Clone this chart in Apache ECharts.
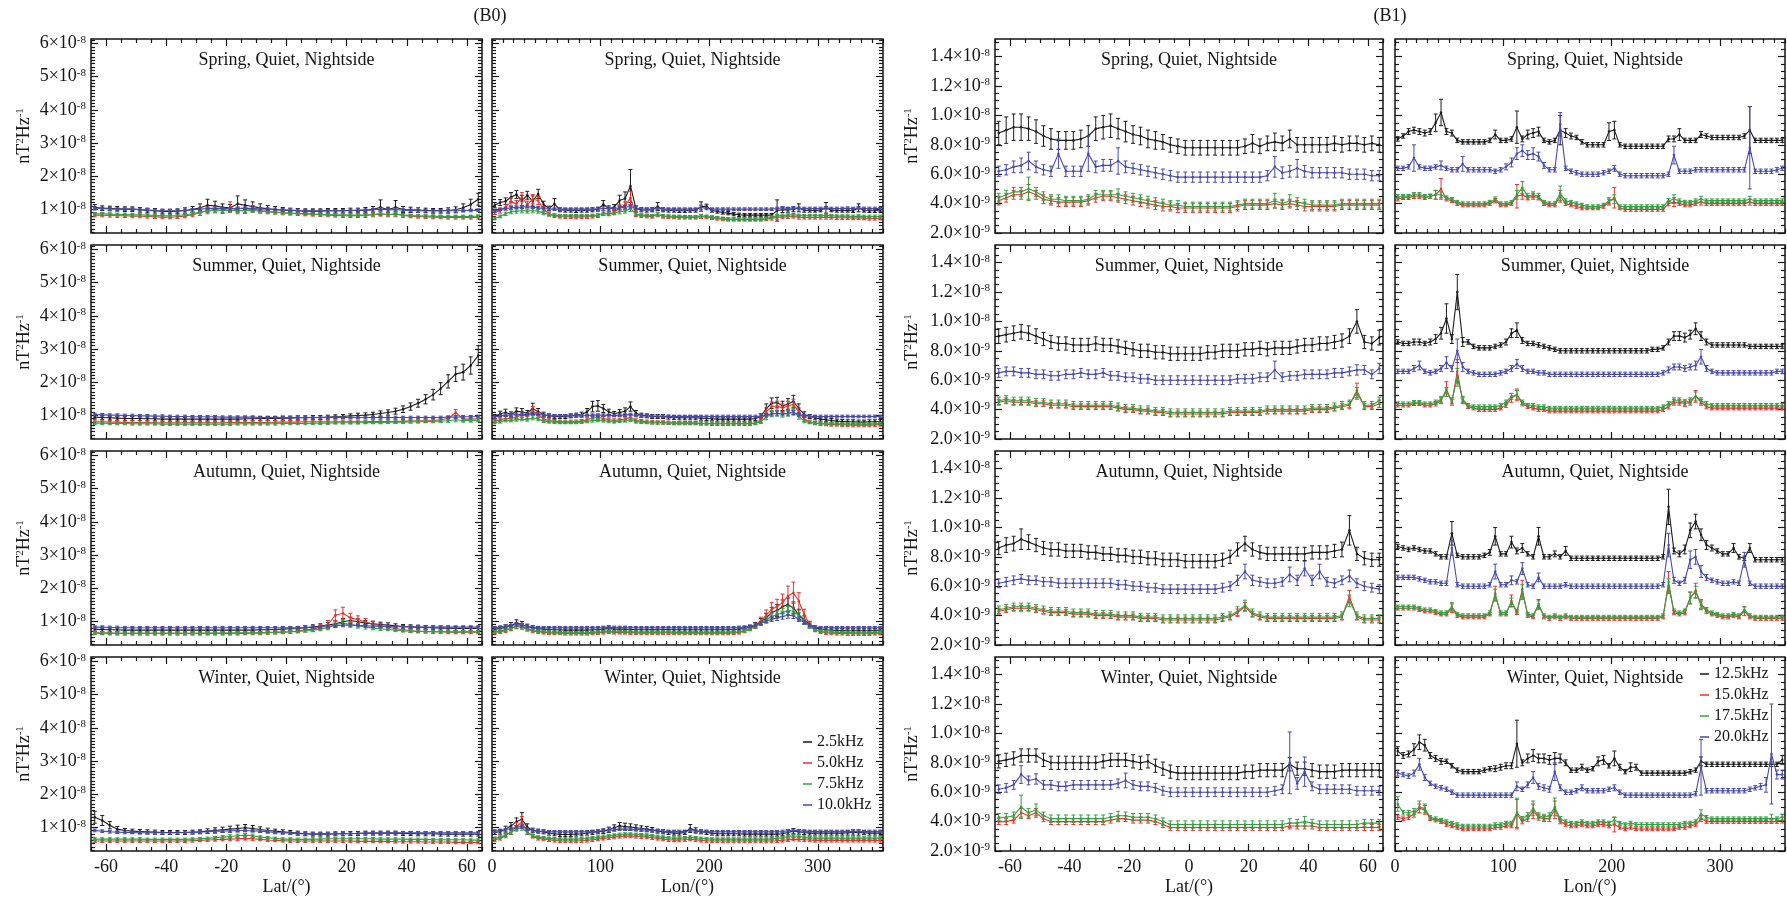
<!DOCTYPE html>
<html>
<head>
<meta charset="utf-8">
<script src="https://cdn.jsdelivr.net/npm/echarts@6/dist/echarts.min.js"></script>
<style>
html,body{margin:0;padding:0;background:#fff;}
#chart{width:1787px;height:901px;}
</style>
</head>
<body>
<div id="chart"></div>
<script>
// ---------- bins and ticks ----------
const latBins = [-63.75,-61.25,-58.75,-56.25,-53.75,-51.25,-48.75,-46.25,-43.75,-41.25,-38.75,-36.25,-33.75,
-31.25,-28.75,-26.25,-23.75,-21.25,-18.75,-16.25,-13.75,-11.25,-8.75,-6.25,-3.75,-1.25,
1.25,3.75,6.25,8.75,11.25,13.75,16.25,18.75,21.25,23.75,26.25,28.75,31.25,
33.75,36.25,38.75,41.25,43.75,46.25,48.75,51.25,53.75,56.25,58.75,61.25,63.75];
const lonBins = [2.5,7.5,12.5,17.5,22.5,27.5,32.5,37.5,42.5,47.5,52.5,57.5,
62.5,67.5,72.5,77.5,82.5,87.5,92.5,97.5,102.5,107.5,112.5,117.5,
122.5,127.5,132.5,137.5,142.5,147.5,152.5,157.5,162.5,167.5,172.5,177.5,
182.5,187.5,192.5,197.5,202.5,207.5,212.5,217.5,222.5,227.5,232.5,237.5,
242.5,247.5,252.5,257.5,262.5,267.5,272.5,277.5,282.5,287.5,292.5,297.5,
302.5,307.5,312.5,317.5,322.5,327.5,332.5,337.5,342.5,347.5,352.5,357.5];

const latTicks = [-60,-40,-20,0,20,40,60];
const lonTicks = [0,100,200,300];
const b0Ticks = [10,20,30,40,50,60];          // units of 1e-9 nT^2/Hz
const b1Ticks = [2,4,6,8,10,12,14];           // units of 1e-9 nT^2/Hz
const seasons = ['Spring','Summer','Autumn','Winter'];
const freqB0 = ['2.5kHz','5.0kHz','7.5kHz','10.0kHz'];
const freqB1 = ['12.5kHz','15.0kHz','17.5kHz','20.0kHz'];

// ---------- B0 : spring ----------
const sprLatF25 = [10.6,10.3,10.2,10.1,10.0,10.0,9.8,9.6,9.5,9.3,9.3,9.4,9.6,
9.9,10.4,11.2,11.0,10.6,10.4,11.6,11.2,10.8,10.4,10.1,9.9,9.7,
9.6,9.5,9.4,9.4,9.4,9.5,9.5,9.5,9.6,9.6,9.7,9.9,10.6,
9.8,10.6,9.9,9.8,9.7,9.6,9.5,9.5,9.6,9.8,10.4,11.4,13.0];
const sprLatF25Err = [0.8,0.7,0.7,0.7,0.7,0.7,0.7,0.7,0.7,0.7,0.7,0.7,0.8,
0.9,1.2,1.8,1.4,1.0,1.0,2.4,1.6,1.4,1.2,1.0,0.9,0.8,
0.7,0.7,0.7,0.7,0.7,0.7,0.7,0.7,0.7,0.7,0.8,0.9,2.2,
0.8,2.0,0.9,0.8,0.7,0.7,0.7,0.7,0.8,0.9,1.2,1.6,1.8];
const sprLatF50 = [8.2,8.2,8.1,8.0,8.0,7.9,7.9,7.8,7.7,7.6,7.6,7.7,7.9,
8.3,8.9,9.6,9.9,9.6,10.6,9.6,9.6,10.1,9.6,9.3,9.1,8.9,
8.7,8.6,8.5,8.4,8.3,8.2,8.1,8.0,8.0,8.0,8.1,8.3,8.6,
8.3,8.5,8.1,7.9,7.8,7.7,7.6,7.6,7.5,7.5,7.5,7.5,7.5];
const sprLatF50Err = [0.5,0.5,0.5,0.5,0.5,0.5,0.5,0.5,0.5,0.5,0.5,0.5,0.5,
0.6,0.8,1.0,1.0,0.9,1.6,1.0,0.9,1.0,0.8,0.7,0.6,0.6,
0.5,0.5,0.5,0.5,0.5,0.5,0.5,0.5,0.5,0.5,0.6,0.6,0.7,
0.6,0.8,0.6,0.5,0.5,0.5,0.5,0.5,0.5,0.5,0.5,0.5,0.5];
const sprLatF75 = [8.6,8.6,8.5,8.4,8.4,8.3,8.3,8.2,8.1,8.0,8.0,8.1,8.3,
8.6,9.1,9.5,9.6,9.5,9.7,9.5,9.5,9.6,9.4,9.2,9.0,8.9,
8.8,8.7,8.6,8.5,8.4,8.4,8.3,8.3,8.2,8.2,8.3,8.4,8.6,
8.4,8.5,8.3,8.1,8.0,7.9,7.9,7.8,7.8,7.8,7.8,7.8,7.9];
const sprLatF75Err = [0.4,0.4,0.4,0.4,0.4,0.4,0.4,0.4,0.4,0.4,0.4,0.4,0.4,
0.4,0.5,0.5,0.5,0.5,0.6,0.5,0.5,0.5,0.5,0.4,0.4,0.4,
0.4,0.4,0.4,0.4,0.4,0.4,0.4,0.4,0.4,0.4,0.4,0.4,0.5,
0.4,0.5,0.4,0.4,0.4,0.4,0.4,0.4,0.4,0.4,0.4,0.4,0.4];
const sprLatF100 = [10.3,10.2,10.1,10.0,10.0,10.0,9.9,9.8,9.6,9.5,9.5,9.5,9.6,
9.8,10.0,10.2,10.3,10.2,10.1,10.2,10.3,10.2,10.1,10.0,9.9,9.8,
9.7,9.6,9.5,9.5,9.5,9.5,9.5,9.5,9.6,9.7,9.7,9.8,10.0,
9.8,9.9,9.7,9.6,9.5,9.5,9.5,9.5,9.5,9.5,9.6,9.6,9.7];
const sprLatF100Err = [0.4,0.4,0.4,0.4,0.4,0.4,0.4,0.4,0.4,0.4,0.4,0.4,0.4,
0.4,0.4,0.4,0.4,0.4,0.4,0.4,0.4,0.4,0.4,0.4,0.4,0.4,
0.4,0.4,0.4,0.4,0.4,0.4,0.4,0.4,0.4,0.4,0.4,0.4,0.4,
0.4,0.4,0.4,0.4,0.4,0.4,0.4,0.4,0.4,0.4,0.4,0.4,0.4];

const sprLonF25 = [11.2,12.0,12.4,13.6,14.4,12.6,14.2,12.4,14.6,11.4,10.2,11.6,
9.8,9.6,9.6,9.5,9.6,9.6,9.8,10.0,11.4,10.2,10.6,12.6,
13.2,17.0,10.2,9.8,9.7,9.8,10.8,9.8,9.6,9.6,9.5,9.5,
9.6,9.6,10.8,10.9,9.6,9.3,9.0,8.8,8.5,8.3,8.2,8.2,
8.2,8.2,8.2,8.2,9.6,9.8,9.8,9.9,10.4,9.7,9.6,9.6,
9.7,10.4,9.7,9.6,9.6,9.6,9.5,10.4,9.6,9.5,9.5,9.8];
const sprLonF25Err = [0.8,0.9,1.0,1.4,1.2,1.6,1.2,1.6,1.4,1.0,0.7,1.6,
0.6,0.5,0.5,0.5,0.5,0.5,0.6,0.6,1.2,0.8,0.8,1.6,
2.0,5.0,0.8,0.6,0.6,0.6,1.2,0.6,0.5,0.5,0.5,0.5,
0.5,0.5,1.4,0.6,0.5,0.5,0.5,0.5,0.5,0.5,0.5,0.5,
0.5,0.5,0.5,0.5,3.2,0.8,0.7,0.7,1.2,0.6,0.5,0.5,
0.5,1.6,0.5,0.5,0.5,0.5,0.5,1.2,0.5,0.5,0.5,0.6];
const sprLonF50 = [9.0,9.5,10.6,12.2,11.6,13.6,11.4,13.0,12.6,10.0,8.5,8.0,
7.8,7.7,7.7,7.6,7.7,7.7,7.8,8.0,8.8,8.6,9.0,10.5,
11.0,13.4,8.4,8.0,7.9,7.8,8.4,7.8,7.7,7.6,7.5,7.5,
7.5,7.5,7.8,7.6,7.4,7.2,7.0,6.9,6.9,6.9,6.9,6.9,
6.9,6.9,7.0,7.2,7.6,7.6,7.7,7.8,7.6,7.5,7.5,7.5,
7.5,7.6,7.5,7.4,7.4,7.4,7.3,7.4,7.3,7.2,7.2,7.3];
const sprLonF50Err = [0.6,0.7,0.9,1.2,1.0,1.4,1.0,1.4,1.2,0.8,0.6,0.5,
0.5,0.5,0.5,0.5,0.5,0.5,0.5,0.5,0.7,0.6,0.6,1.0,
1.2,2.0,0.6,0.5,0.5,0.5,0.7,0.5,0.5,0.5,0.5,0.5,
0.5,0.5,0.6,0.5,0.5,0.5,0.5,0.5,0.5,0.5,0.5,0.5,
0.5,0.5,0.5,0.5,0.6,0.5,0.5,0.5,0.6,0.5,0.5,0.5,
0.5,0.6,0.5,0.5,0.5,0.5,0.5,0.5,0.5,0.5,0.5,0.5];
const sprLonF75 = [7.2,7.8,8.6,9.2,9.4,9.6,9.4,9.6,9.4,8.8,8.4,8.2,
8.0,8.0,8.0,8.0,8.0,8.0,8.1,8.2,8.6,8.5,8.8,9.2,
9.4,10.2,8.5,8.2,8.1,8.0,8.4,8.0,7.9,7.8,7.8,7.7,
7.7,7.7,8.0,7.8,7.6,7.4,7.2,7.0,7.0,7.0,7.0,7.0,
7.0,7.0,7.2,7.6,8.0,8.1,8.2,8.3,8.1,8.0,8.0,8.0,
8.0,8.1,8.0,7.9,7.9,7.9,7.8,7.9,7.8,7.8,7.8,7.8];
const sprLonF75Err = [0.4,0.4,0.5,0.6,0.6,0.7,0.6,0.7,0.6,0.5,0.4,0.4,
0.4,0.4,0.4,0.4,0.4,0.4,0.4,0.4,0.5,0.4,0.5,0.6,
0.6,0.9,0.4,0.4,0.4,0.4,0.5,0.4,0.4,0.4,0.4,0.4,
0.4,0.4,0.4,0.4,0.4,0.4,0.4,0.4,0.4,0.4,0.4,0.4,
0.4,0.4,0.4,0.4,0.4,0.4,0.4,0.4,0.4,0.4,0.4,0.4,
0.4,0.4,0.4,0.4,0.4,0.4,0.4,0.4,0.4,0.4,0.4,0.4];
const sprLonF100 = [9.4,10.0,10.2,10.4,10.6,10.6,10.8,10.6,10.4,10.2,10.1,10.0,
10.0,10.0,10.0,10.0,10.0,10.0,10.0,10.0,10.2,10.2,10.2,10.4,
10.6,10.8,10.3,10.1,10.0,10.0,10.2,10.0,10.0,10.0,10.0,10.0,
10.0,10.0,10.6,10.2,10.0,10.0,10.0,10.0,10.0,10.0,10.0,10.0,
10.0,10.0,10.0,10.0,10.2,10.4,10.2,10.4,10.2,10.2,10.2,10.2,
10.2,10.4,10.2,10.2,10.2,10.3,10.2,10.4,10.2,10.2,10.2,10.2];
const sprLonF100Err = [0.4,0.4,0.4,0.4,0.4,0.4,0.4,0.4,0.4,0.4,0.4,0.4,
0.4,0.4,0.4,0.4,0.4,0.4,0.4,0.4,0.5,0.4,0.4,0.4,
0.5,0.5,0.4,0.4,0.4,0.4,0.4,0.4,0.4,0.4,0.4,0.4,
0.4,0.4,0.6,0.4,0.4,0.4,0.4,0.4,0.4,0.4,0.4,0.4,
0.4,0.4,0.4,0.4,0.4,0.4,0.4,0.4,0.4,0.4,0.4,0.4,
0.4,0.4,0.4,0.4,0.4,0.4,0.4,0.4,0.4,0.4,0.4,0.4];

// ---------- B0 : summer ----------
const sumLatF25 = [9.4,9.3,9.2,9.1,9.0,9.0,9.0,8.9,8.9,8.8,8.8,8.8,8.8,
8.8,8.8,8.8,8.8,8.8,8.8,8.8,8.9,8.9,9.0,9.0,9.0,9.1,
9.1,9.2,9.2,9.3,9.3,9.4,9.5,9.6,9.8,9.9,10.0,10.2,10.5,
10.8,11.2,11.8,12.6,13.6,14.8,16.2,18.0,20.2,22.4,23.0,25.0,28.0];
const sumLatF25Err = [0.6,0.6,0.6,0.6,0.6,0.6,0.6,0.6,0.6,0.6,0.6,0.6,0.6,
0.6,0.6,0.6,0.6,0.6,0.6,0.6,0.6,0.6,0.6,0.6,0.6,0.6,
0.6,0.6,0.6,0.6,0.6,0.6,0.6,0.6,0.6,0.7,0.7,0.7,0.8,
0.8,0.9,1.0,1.1,1.2,1.4,1.6,1.8,2.0,2.2,2.4,2.6,3.0];
const sumLatF50 = [8.0,8.0,7.9,7.9,7.8,7.8,7.8,7.8,7.7,7.7,7.7,7.7,7.7,
7.7,7.7,7.7,7.7,7.7,7.8,7.8,7.8,7.8,7.8,7.8,7.9,7.9,
7.9,7.9,8.0,8.0,8.0,8.0,8.0,8.0,8.0,8.0,8.0,8.1,8.1,
8.1,8.1,8.2,8.2,8.3,8.3,8.4,8.6,9.0,10.8,8.8,8.8,8.9];
const sumLatF50Err = [0.5,0.5,0.5,0.5,0.5,0.5,0.5,0.5,0.5,0.5,0.5,0.5,0.5,
0.5,0.5,0.5,0.5,0.5,0.5,0.5,0.5,0.5,0.5,0.5,0.5,0.5,
0.5,0.5,0.5,0.5,0.5,0.5,0.5,0.5,0.5,0.5,0.5,0.5,0.5,
0.5,0.5,0.5,0.5,0.5,0.5,0.5,0.6,0.6,0.9,0.6,0.6,0.6];
const sumLatF75 = [7.6,7.6,7.5,7.5,7.5,7.4,7.4,7.4,7.4,7.3,7.3,7.3,7.3,
7.3,7.3,7.3,7.3,7.3,7.3,7.4,7.4,7.4,7.4,7.4,7.4,7.5,
7.5,7.5,7.5,7.6,7.6,7.6,7.7,7.7,7.7,7.7,7.8,7.8,7.8,
7.9,7.9,7.9,8.0,8.0,8.1,8.1,8.2,8.3,8.6,8.4,8.4,8.5];
const sumLatF75Err = [0.4,0.4,0.4,0.4,0.4,0.4,0.4,0.4,0.4,0.4,0.4,0.4,0.4,
0.4,0.4,0.4,0.4,0.4,0.4,0.4,0.4,0.4,0.4,0.4,0.4,0.4,
0.4,0.4,0.4,0.4,0.4,0.4,0.4,0.4,0.4,0.4,0.4,0.4,0.4,
0.4,0.4,0.4,0.4,0.4,0.4,0.4,0.4,0.5,0.6,0.5,0.5,0.5];
const sumLatF100 = [10.2,10.1,10.0,10.0,9.9,9.9,9.8,9.8,9.7,9.7,9.6,9.6,9.6,
9.5,9.5,9.5,9.5,9.4,9.4,9.4,9.4,9.4,9.3,9.3,9.3,9.3,
9.3,9.3,9.3,9.3,9.3,9.3,9.3,9.3,9.3,9.3,9.3,9.3,9.3,
9.3,9.3,9.3,9.3,9.3,9.3,9.3,9.3,9.4,9.4,9.5,9.5,9.6];
const sumLatF100Err = [0.4,0.4,0.4,0.4,0.4,0.4,0.4,0.4,0.4,0.4,0.4,0.4,0.4,
0.4,0.4,0.4,0.4,0.4,0.4,0.4,0.4,0.4,0.4,0.4,0.4,0.4,
0.4,0.4,0.4,0.4,0.4,0.4,0.4,0.4,0.4,0.4,0.4,0.4,0.4,
0.4,0.4,0.4,0.4,0.4,0.4,0.4,0.4,0.4,0.4,0.4,0.4,0.4];

const sumLonF25 = [9.6,10.4,10.8,10.2,11.2,11.0,10.6,12.0,11.0,10.2,9.8,9.6,
9.6,9.6,9.8,10.0,10.2,11.0,12.6,12.8,12.0,11.0,10.4,10.8,
11.2,12.6,10.6,10.0,9.8,9.6,9.6,9.6,9.4,9.3,9.2,9.2,
9.2,9.2,9.1,9.0,8.9,8.8,8.8,8.8,8.8,8.8,8.8,8.8,
9.0,9.6,12.0,13.6,13.8,12.8,13.4,14.2,12.0,10.2,9.6,9.2,
8.8,8.6,8.4,8.2,8.1,8.0,8.0,7.9,7.9,8.0,8.0,8.1];
const sumLonF25Err = [0.6,0.8,1.0,0.8,1.0,1.0,0.8,1.6,1.0,0.7,0.6,0.6,
0.6,0.6,0.6,0.6,0.7,1.0,1.6,1.6,1.2,0.8,0.7,0.9,
1.0,1.4,0.8,0.6,0.6,0.6,0.6,0.6,0.6,0.6,0.6,0.6,
0.6,0.6,0.6,0.6,0.6,0.6,0.6,0.6,0.6,0.6,0.6,0.6,
0.6,0.8,1.4,1.6,1.6,1.4,1.6,1.8,1.4,0.8,0.6,0.6,
0.6,0.6,0.6,0.6,0.6,0.6,0.6,0.6,0.6,0.6,0.6,0.6];
const sumLonF50 = [8.2,8.6,9.0,9.0,9.4,10.2,9.6,11.4,10.0,8.8,8.4,8.2,
8.0,8.0,8.0,8.0,8.2,8.6,9.2,9.4,9.0,8.6,8.4,8.6,
8.8,9.4,8.4,8.2,8.0,7.9,7.8,7.8,7.7,7.6,7.6,7.6,
7.6,7.6,7.5,7.5,7.4,7.4,7.4,7.4,7.4,7.4,7.4,7.4,
7.6,8.4,11.0,12.6,12.8,12.2,12.8,13.2,11.0,8.8,8.0,7.6,
7.4,7.3,7.2,7.2,7.1,7.1,7.0,7.0,7.0,7.0,7.1,7.2];
const sumLonF50Err = [0.5,0.5,0.6,0.6,0.7,0.8,0.7,1.2,0.8,0.5,0.5,0.5,
0.5,0.5,0.5,0.5,0.5,0.6,0.7,0.7,0.6,0.5,0.5,0.5,
0.6,0.8,0.5,0.5,0.5,0.5,0.5,0.5,0.5,0.5,0.5,0.5,
0.5,0.5,0.5,0.5,0.5,0.5,0.5,0.5,0.5,0.5,0.5,0.5,
0.5,0.7,1.2,1.4,1.4,1.2,1.4,1.6,1.2,0.7,0.5,0.5,
0.5,0.5,0.5,0.5,0.5,0.5,0.5,0.5,0.5,0.5,0.5,0.5];
const sumLonF75 = [7.8,8.0,8.4,8.4,8.6,8.8,8.6,9.2,8.8,8.2,8.0,7.9,
7.8,7.8,7.8,7.8,7.9,8.1,8.4,8.5,8.3,8.1,8.0,8.2,
8.3,8.6,8.0,7.9,7.8,7.7,7.7,7.7,7.6,7.6,7.6,7.6,
7.6,7.6,7.5,7.5,7.5,7.5,7.5,7.5,7.5,7.5,7.5,7.5,
7.6,8.0,9.4,10.4,10.6,10.2,10.6,11.0,9.6,8.2,7.8,7.6,
7.5,7.4,7.4,7.4,7.3,7.3,7.3,7.3,7.3,7.3,7.4,7.5];
const sumLonF75Err = [0.4,0.4,0.4,0.4,0.4,0.5,0.4,0.6,0.5,0.4,0.4,0.4,
0.4,0.4,0.4,0.4,0.4,0.4,0.5,0.5,0.4,0.4,0.4,0.4,
0.4,0.5,0.4,0.4,0.4,0.4,0.4,0.4,0.4,0.4,0.4,0.4,
0.4,0.4,0.4,0.4,0.4,0.4,0.4,0.4,0.4,0.4,0.4,0.4,
0.4,0.5,0.8,0.9,0.9,0.8,0.9,1.0,0.8,0.5,0.4,0.4,
0.4,0.4,0.4,0.4,0.4,0.4,0.4,0.4,0.4,0.4,0.4,0.4];
const sumLonF100 = [9.4,9.8,10.0,10.0,10.2,10.2,10.2,10.4,10.2,10.0,9.9,9.8,
9.8,9.8,9.8,9.8,9.8,9.9,10.0,10.0,10.0,9.9,9.9,10.0,
10.0,10.2,9.9,9.8,9.8,9.7,9.7,9.7,9.6,9.6,9.6,9.6,
9.6,9.6,9.6,9.6,9.6,9.6,9.6,9.6,9.6,9.6,9.6,9.6,
9.6,9.7,10.0,10.4,10.6,10.4,10.6,10.8,10.2,9.8,9.7,9.6,
9.6,9.6,9.6,9.6,9.6,9.6,9.6,9.6,9.6,9.6,9.6,9.6];
const sumLonF100Err = [0.4,0.4,0.4,0.4,0.4,0.4,0.4,0.4,0.4,0.4,0.4,0.4,
0.4,0.4,0.4,0.4,0.4,0.4,0.4,0.4,0.4,0.4,0.4,0.4,
0.4,0.4,0.4,0.4,0.4,0.4,0.4,0.4,0.4,0.4,0.4,0.4,
0.4,0.4,0.4,0.4,0.4,0.4,0.4,0.4,0.4,0.4,0.4,0.4,
0.4,0.4,0.5,0.6,0.6,0.6,0.6,0.6,0.5,0.4,0.4,0.4,
0.4,0.4,0.4,0.4,0.4,0.4,0.4,0.4,0.4,0.4,0.4,0.4];

// ---------- B0 : autumn ----------
const autLatF25 = [7.6,7.5,7.4,7.4,7.3,7.3,7.3,7.3,7.3,7.3,7.3,7.3,7.3,
7.3,7.3,7.3,7.3,7.3,7.3,7.3,7.3,7.3,7.4,7.4,7.5,7.6,
7.7,7.8,8.0,8.2,8.5,8.8,9.2,9.8,10.2,9.8,9.4,9.2,9.0,
8.8,8.6,8.4,8.3,8.2,8.1,8.0,7.9,7.9,7.8,7.8,7.8,7.8];
const autLatF25Err = [0.6,0.6,0.6,0.6,0.6,0.6,0.6,0.6,0.6,0.6,0.6,0.6,0.6,
0.6,0.6,0.6,0.6,0.6,0.6,0.6,0.6,0.6,0.6,0.6,0.6,0.6,
0.6,0.6,0.6,0.7,0.7,0.8,0.9,1.0,1.0,0.9,0.8,0.8,0.7,
0.7,0.6,0.6,0.6,0.6,0.6,0.6,0.6,0.6,0.6,0.6,0.6,0.6];
const autLatF50 = [6.5,6.4,6.4,6.3,6.3,6.3,6.3,6.3,6.3,6.3,6.3,6.3,6.3,
6.3,6.3,6.3,6.3,6.3,6.3,6.3,6.4,6.4,6.4,6.5,6.6,6.7,
6.8,7.0,7.3,7.6,8.2,9.0,11.8,12.4,11.0,10.4,9.8,9.0,8.6,
8.2,7.8,7.4,7.1,7.0,6.9,6.8,6.8,6.7,6.7,6.7,6.7,6.7];
const autLatF50Err = [0.5,0.5,0.5,0.5,0.5,0.5,0.5,0.5,0.5,0.5,0.5,0.5,0.5,
0.5,0.5,0.5,0.5,0.5,0.5,0.5,0.5,0.5,0.5,0.5,0.5,0.5,
0.5,0.5,0.6,0.7,0.9,1.2,1.6,1.8,1.4,1.2,1.0,0.8,0.7,
0.6,0.6,0.5,0.5,0.5,0.5,0.5,0.5,0.5,0.5,0.5,0.5,0.5];
const autLatF75 = [6.4,6.4,6.3,6.3,6.3,6.3,6.3,6.3,6.3,6.3,6.3,6.3,6.3,
6.3,6.3,6.4,6.4,6.4,6.4,6.5,6.5,6.5,6.5,6.6,6.6,6.7,
6.8,6.9,7.1,7.3,7.6,8.0,9.0,9.4,9.0,8.6,8.2,7.9,7.7,
7.5,7.3,7.1,7.0,6.9,6.9,6.8,6.8,6.8,6.8,6.8,6.8,6.8];
const autLatF75Err = [0.4,0.4,0.4,0.4,0.4,0.4,0.4,0.4,0.4,0.4,0.4,0.4,0.4,
0.4,0.4,0.4,0.4,0.4,0.4,0.4,0.4,0.4,0.4,0.4,0.4,0.4,
0.4,0.4,0.4,0.5,0.5,0.6,0.8,0.9,0.8,0.7,0.6,0.5,0.5,
0.4,0.4,0.4,0.4,0.4,0.4,0.4,0.4,0.4,0.4,0.4,0.4,0.4];
const autLatF100 = [8.2,8.2,8.1,8.1,8.0,8.0,8.0,8.0,8.0,8.0,8.0,8.0,8.0,
8.0,8.0,8.0,8.0,8.0,8.0,8.0,8.0,8.0,8.0,8.0,8.0,8.0,
8.0,8.0,8.1,8.2,8.3,8.4,8.6,8.8,8.8,8.7,8.6,8.5,8.4,
8.4,8.3,8.3,8.2,8.2,8.2,8.2,8.2,8.2,8.2,8.2,8.2,8.2];
const autLatF100Err = [0.4,0.4,0.4,0.4,0.4,0.4,0.4,0.4,0.4,0.4,0.4,0.4,0.4,
0.4,0.4,0.4,0.4,0.4,0.4,0.4,0.4,0.4,0.4,0.4,0.4,0.4,
0.4,0.4,0.4,0.4,0.4,0.4,0.5,0.5,0.5,0.4,0.4,0.4,0.4,
0.4,0.4,0.4,0.4,0.4,0.4,0.4,0.4,0.4,0.4,0.4,0.4,0.4];

const autLonF25 = [7.6,7.8,8.2,8.8,9.4,9.0,8.4,8.0,7.8,7.6,7.5,7.4,
7.4,7.3,7.3,7.3,7.3,7.3,7.4,7.5,7.6,7.8,7.6,7.6,
7.6,7.5,7.5,7.4,7.4,7.5,7.4,7.5,7.5,7.4,7.4,7.4,
7.4,7.4,7.4,7.4,7.4,7.4,7.4,7.4,7.5,7.6,7.8,8.2,
8.8,9.8,11.0,12.6,13.2,14.4,15.0,14.0,12.0,10.4,9.0,8.0,
7.6,7.4,7.3,7.2,7.2,7.1,7.1,7.1,7.1,7.1,7.2,7.3];
const autLonF25Err = [0.6,0.6,0.7,0.8,1.0,0.9,0.7,0.6,0.6,0.6,0.6,0.6,
0.6,0.6,0.6,0.6,0.6,0.6,0.6,0.6,0.6,0.7,0.6,0.6,
0.6,0.6,0.6,0.6,0.6,0.6,0.6,0.6,0.6,0.6,0.6,0.6,
0.6,0.6,0.6,0.6,0.6,0.6,0.6,0.6,0.6,0.6,0.6,0.6,
0.8,1.0,1.4,1.6,1.8,2.0,2.0,1.8,1.6,1.2,0.8,0.6,
0.6,0.6,0.6,0.6,0.6,0.6,0.6,0.6,0.6,0.6,0.6,0.6];
const autLonF50 = [6.6,6.8,7.2,7.8,8.6,8.4,7.6,7.0,6.8,6.6,6.5,6.4,
6.4,6.3,6.3,6.3,6.3,6.3,6.4,6.5,6.6,6.8,6.6,6.6,
6.6,6.5,6.5,6.4,6.4,6.5,6.4,6.5,6.5,6.4,6.4,6.4,
6.4,6.4,6.4,6.4,6.4,6.4,6.4,6.4,6.5,6.6,7.0,7.6,
8.6,10.0,11.8,13.6,14.4,15.6,17.6,18.6,16.0,12.0,9.0,7.4,
6.8,6.5,6.4,6.3,6.3,6.2,6.2,6.2,6.2,6.2,6.3,6.4];
const autLonF50Err = [0.5,0.5,0.6,0.7,0.9,0.8,0.6,0.5,0.5,0.5,0.5,0.5,
0.5,0.5,0.5,0.5,0.5,0.5,0.5,0.5,0.5,0.5,0.5,0.5,
0.5,0.5,0.5,0.5,0.5,0.5,0.5,0.5,0.5,0.5,0.5,0.5,
0.5,0.5,0.5,0.5,0.5,0.5,0.5,0.5,0.5,0.5,0.5,0.5,
0.8,1.2,1.6,2.0,2.2,2.6,3.0,3.2,2.6,1.6,1.0,0.6,
0.5,0.5,0.5,0.5,0.5,0.5,0.5,0.5,0.5,0.5,0.5,0.5];
const autLonF75 = [6.8,7.0,7.3,7.8,8.4,8.2,7.6,7.2,7.0,6.8,6.7,6.6,
6.6,6.5,6.5,6.5,6.5,6.5,6.6,6.7,6.8,6.9,6.8,6.8,
6.8,6.7,6.7,6.6,6.6,6.7,6.6,6.7,6.7,6.6,6.6,6.6,
6.6,6.6,6.6,6.6,6.6,6.6,6.6,6.6,6.7,6.8,7.1,7.6,
8.4,9.4,10.4,11.4,12.0,12.6,13.2,13.0,11.6,9.8,8.4,7.4,
7.0,6.8,6.7,6.6,6.6,6.6,6.5,6.5,6.5,6.5,6.6,6.7];
const autLonF75Err = [0.4,0.4,0.4,0.5,0.6,0.6,0.5,0.4,0.4,0.4,0.4,0.4,
0.4,0.4,0.4,0.4,0.4,0.4,0.4,0.4,0.4,0.4,0.4,0.4,
0.4,0.4,0.4,0.4,0.4,0.4,0.4,0.4,0.4,0.4,0.4,0.4,
0.4,0.4,0.4,0.4,0.4,0.4,0.4,0.4,0.4,0.4,0.4,0.4,
0.5,0.6,0.8,1.0,1.1,1.2,1.2,1.2,1.0,0.8,0.6,0.4,
0.4,0.4,0.4,0.4,0.4,0.4,0.4,0.4,0.4,0.4,0.4,0.4];
const autLonF100 = [8.0,8.2,8.4,8.6,9.0,8.8,8.4,8.2,8.0,8.0,8.0,8.0,
8.0,8.0,8.0,8.0,8.0,8.0,8.0,8.0,8.1,8.2,8.1,8.1,
8.1,8.0,8.0,8.0,8.0,8.0,8.0,8.0,8.0,8.0,8.0,8.0,
8.0,8.0,8.0,8.0,8.0,8.0,8.0,8.0,8.0,8.1,8.2,8.4,
8.8,9.4,10.0,10.6,11.0,11.4,11.8,11.6,10.6,9.6,8.8,8.2,
8.0,8.0,8.0,8.0,8.0,8.0,8.0,8.0,8.0,8.0,8.0,8.0];
const autLonF100Err = [0.4,0.4,0.4,0.4,0.5,0.5,0.4,0.4,0.4,0.4,0.4,0.4,
0.4,0.4,0.4,0.4,0.4,0.4,0.4,0.4,0.4,0.4,0.4,0.4,
0.4,0.4,0.4,0.4,0.4,0.4,0.4,0.4,0.4,0.4,0.4,0.4,
0.4,0.4,0.4,0.4,0.4,0.4,0.4,0.4,0.4,0.4,0.4,0.4,
0.4,0.5,0.6,0.7,0.8,0.8,0.9,0.8,0.7,0.5,0.4,0.4,
0.4,0.4,0.4,0.4,0.4,0.4,0.4,0.4,0.4,0.4,0.4,0.4];

// ---------- B0 : winter ----------
const winLatF25 = [13.0,12.0,10.6,9.4,9.0,8.8,8.7,8.6,8.5,8.4,8.4,8.4,8.4,
8.5,8.6,8.8,9.0,9.2,9.4,9.6,9.8,9.6,9.3,9.0,8.8,8.6,
8.4,8.2,8.0,7.9,7.9,7.9,8.0,8.0,8.1,8.1,8.2,8.2,8.2,
8.2,8.2,8.1,8.1,8.0,8.0,8.0,7.9,7.9,7.9,7.9,7.9,7.9];
const winLatF25Err = [1.8,1.5,1.1,0.8,0.6,0.6,0.6,0.6,0.6,0.6,0.6,0.6,0.6,
0.6,0.6,0.7,0.8,0.8,0.9,1.0,1.0,0.9,0.8,0.7,0.6,0.6,
0.6,0.6,0.6,0.6,0.6,0.6,0.6,0.6,0.6,0.6,0.6,0.6,0.6,
0.6,0.6,0.6,0.6,0.6,0.6,0.6,0.6,0.6,0.6,0.6,0.6,0.6];
const winLatF50 = [5.8,5.8,5.8,5.8,5.8,5.8,5.8,5.8,5.8,5.8,5.8,5.8,5.8,
5.9,6.0,6.1,6.2,6.3,6.4,6.5,6.6,6.5,6.3,6.1,6.0,5.9,
5.8,5.8,5.8,5.8,5.8,5.8,5.8,5.8,5.8,5.7,5.7,5.7,5.7,
5.7,5.6,5.6,5.6,5.6,5.5,5.5,5.5,5.5,5.4,5.4,5.4,5.4];
const winLatF50Err = [0.4,0.4,0.4,0.4,0.4,0.4,0.4,0.4,0.4,0.4,0.4,0.4,0.4,
0.4,0.4,0.4,0.4,0.4,0.5,0.5,0.5,0.5,0.4,0.4,0.4,0.4,
0.4,0.4,0.4,0.4,0.4,0.4,0.4,0.4,0.4,0.4,0.4,0.4,0.4,
0.4,0.4,0.4,0.4,0.4,0.4,0.4,0.4,0.4,0.4,0.4,0.4,0.4];
const winLatF75 = [6.4,6.4,6.4,6.4,6.4,6.4,6.4,6.3,6.3,6.3,6.3,6.3,6.3,
6.4,6.5,6.6,6.8,7.0,7.2,7.4,7.6,7.4,7.0,6.8,6.6,6.4,
6.4,6.3,6.3,6.4,6.4,6.5,6.5,6.5,6.5,6.5,6.5,6.5,6.4,
6.4,6.4,6.4,6.3,6.3,6.3,6.2,6.2,6.2,6.2,6.2,6.1,6.1];
const winLatF75Err = [0.4,0.4,0.4,0.4,0.4,0.4,0.4,0.4,0.4,0.4,0.4,0.4,0.4,
0.4,0.4,0.4,0.4,0.5,0.5,0.5,0.5,0.5,0.4,0.4,0.4,0.4,
0.4,0.4,0.4,0.4,0.4,0.4,0.4,0.4,0.4,0.4,0.4,0.4,0.4,
0.4,0.4,0.4,0.4,0.4,0.4,0.4,0.4,0.4,0.4,0.4,0.4,0.4];
const winLatF100 = [9.0,8.8,8.6,8.5,8.4,8.4,8.3,8.3,8.3,8.3,8.3,8.3,8.4,
8.4,8.5,8.6,8.8,8.8,8.9,9.0,9.0,8.9,8.8,8.6,8.4,8.3,
8.2,8.0,8.0,8.0,8.0,8.0,8.0,8.0,8.1,8.1,8.2,8.2,8.2,
8.3,8.3,8.3,8.3,8.3,8.3,8.3,8.3,8.3,8.3,8.3,8.3,8.3];
const winLatF100Err = [0.4,0.4,0.4,0.4,0.4,0.4,0.4,0.4,0.4,0.4,0.4,0.4,0.4,
0.4,0.4,0.4,0.4,0.4,0.4,0.4,0.4,0.4,0.4,0.4,0.4,0.4,
0.4,0.4,0.4,0.4,0.4,0.4,0.4,0.4,0.4,0.4,0.4,0.4,0.4,
0.4,0.4,0.4,0.4,0.4,0.4,0.4,0.4,0.4,0.4,0.4,0.4,0.4];

const winLonF25 = [8.4,8.6,9.4,10.4,11.6,12.4,10.0,9.0,8.8,8.6,8.2,8.0,
7.8,7.8,7.8,7.9,8.0,8.2,8.4,8.6,8.8,9.2,9.8,10.4,
10.2,10.0,9.8,9.6,9.4,9.2,8.8,8.6,8.4,8.2,8.2,8.4,
9.6,9.0,8.6,8.4,8.2,8.0,8.0,8.0,8.0,8.0,7.9,7.9,
7.9,7.9,7.9,7.9,7.9,8.0,8.4,8.8,8.6,8.4,8.2,8.2,
8.2,8.2,8.2,8.2,8.2,8.3,8.4,8.4,8.3,8.2,8.2,8.2];
const winLonF25Err = [0.6,0.7,0.9,1.0,1.2,2.0,1.0,0.7,0.6,0.6,0.6,0.6,
0.6,0.6,0.6,0.6,0.6,0.6,0.6,0.6,0.7,0.8,0.9,1.0,
1.0,1.0,0.9,0.8,0.8,0.7,0.6,0.6,0.6,0.6,0.6,0.6,
1.2,0.8,0.6,0.6,0.6,0.6,0.6,0.6,0.6,0.6,0.6,0.6,
0.6,0.6,0.6,0.6,0.6,0.6,0.7,0.8,0.7,0.6,0.6,0.6,
0.6,0.6,0.6,0.6,0.6,0.7,0.8,0.8,0.6,0.6,0.6,0.6];
const winLonF50 = [6.2,6.6,7.4,8.6,10.2,11.6,8.6,7.2,6.6,6.4,6.2,6.0,
5.8,5.8,5.8,5.8,5.9,6.0,6.2,6.4,6.6,6.8,7.0,7.2,
7.3,7.3,7.2,7.1,7.0,6.8,6.6,6.4,6.2,6.1,6.1,6.2,
6.4,6.2,6.0,5.9,5.8,5.8,5.8,5.8,5.8,5.8,5.8,5.8,
5.8,5.8,5.8,5.8,5.9,6.0,6.2,6.4,6.3,6.2,6.1,6.0,
6.0,6.0,6.0,6.0,6.0,6.0,6.0,6.0,6.0,6.0,6.0,6.0];
const winLonF50Err = [0.5,0.5,0.6,0.8,1.2,1.6,0.8,0.5,0.5,0.5,0.5,0.5,
0.5,0.5,0.5,0.5,0.5,0.5,0.5,0.5,0.5,0.5,0.5,0.5,
0.5,0.5,0.5,0.5,0.5,0.5,0.5,0.5,0.5,0.5,0.5,0.5,
0.5,0.5,0.5,0.5,0.5,0.5,0.5,0.5,0.5,0.5,0.5,0.5,
0.5,0.5,0.5,0.5,0.5,0.5,0.5,0.5,0.5,0.5,0.5,0.5,
0.5,0.5,0.5,0.5,0.5,0.5,0.5,0.5,0.5,0.5,0.5,0.5];
const winLonF75 = [6.6,7.0,7.6,8.4,9.4,9.8,8.4,7.4,7.0,6.8,6.6,6.5,
6.4,6.4,6.4,6.4,6.5,6.6,6.8,7.0,7.2,7.4,7.6,7.8,
7.9,7.9,7.8,7.7,7.6,7.4,7.2,7.0,6.8,6.7,6.7,6.8,
7.0,6.8,6.6,6.5,6.4,6.4,6.4,6.4,6.4,6.4,6.4,6.4,
6.4,6.4,6.4,6.5,6.6,6.8,7.2,7.4,7.2,7.0,6.8,6.7,
6.7,6.7,6.7,6.7,6.7,6.7,6.7,6.7,6.7,6.7,6.7,6.7];
const winLonF75Err = [0.4,0.4,0.4,0.5,0.6,0.7,0.5,0.4,0.4,0.4,0.4,0.4,
0.4,0.4,0.4,0.4,0.4,0.4,0.4,0.4,0.4,0.4,0.4,0.4,
0.4,0.4,0.4,0.4,0.4,0.4,0.4,0.4,0.4,0.4,0.4,0.4,
0.4,0.4,0.4,0.4,0.4,0.4,0.4,0.4,0.4,0.4,0.4,0.4,
0.4,0.4,0.4,0.4,0.4,0.4,0.4,0.4,0.4,0.4,0.4,0.4,
0.4,0.4,0.4,0.4,0.4,0.4,0.4,0.4,0.4,0.4,0.4,0.4];
const winLonF100 = [8.8,9.0,9.2,9.6,10.0,10.2,9.4,9.0,8.8,8.7,8.6,8.6,
8.6,8.6,8.6,8.6,8.6,8.6,8.7,8.8,8.9,9.0,9.2,9.4,
9.4,9.4,9.3,9.2,9.1,9.0,8.9,8.8,8.7,8.7,8.7,8.7,
9.0,8.8,8.7,8.7,8.6,8.6,8.6,8.6,8.6,8.6,8.6,8.6,
8.6,8.6,8.6,8.6,8.6,8.7,8.9,9.0,8.9,8.8,8.7,8.7,
8.7,8.7,8.7,8.7,8.7,8.7,8.7,8.7,8.7,8.7,8.7,8.7];
const winLonF100Err = [0.4,0.4,0.4,0.4,0.5,0.5,0.4,0.4,0.4,0.4,0.4,0.4,
0.4,0.4,0.4,0.4,0.4,0.4,0.4,0.4,0.4,0.4,0.4,0.4,
0.4,0.4,0.4,0.4,0.4,0.4,0.4,0.4,0.4,0.4,0.4,0.4,
0.4,0.4,0.4,0.4,0.4,0.4,0.4,0.4,0.4,0.4,0.4,0.4,
0.4,0.4,0.4,0.4,0.4,0.4,0.4,0.4,0.4,0.4,0.4,0.4,
0.4,0.4,0.4,0.4,0.4,0.4,0.4,0.4,0.4,0.4,0.4,0.4];

// ---------- B1 : spring ----------
const sprLatF125 = [8.8,9.0,9.2,9.2,9.1,8.9,8.6,8.4,8.3,8.3,8.3,8.4,8.6,
9.1,9.2,9.3,9.1,8.9,8.7,8.6,8.4,8.3,8.2,8.0,7.9,7.8,
7.8,7.8,7.8,7.8,7.8,7.8,7.8,7.9,8.1,7.9,8.1,8.2,8.1,
8.4,8.0,8.0,8.0,8.0,8.0,8.1,8.0,8.1,8.1,8.0,8.1,8.0];
const sprLatF125Err = [0.8,0.9,0.9,0.9,0.8,0.8,0.7,0.7,0.6,0.6,0.6,0.6,0.7,
0.8,0.8,0.8,0.7,0.7,0.6,0.6,0.6,0.6,0.5,0.5,0.5,0.5,
0.5,0.5,0.5,0.5,0.5,0.5,0.5,0.5,0.6,0.5,0.5,0.6,0.5,
0.6,0.5,0.5,0.5,0.5,0.5,0.5,0.5,0.5,0.5,0.5,0.5,0.5];
const sprLatF150 = [4.2,4.4,4.6,4.6,4.8,4.6,4.3,4.2,4.1,4.1,4.1,4.1,4.2,
4.4,4.5,4.5,4.4,4.3,4.2,4.1,4.0,3.9,3.8,3.8,3.7,3.7,
3.7,3.7,3.7,3.7,3.7,3.7,3.8,3.9,3.9,3.9,3.9,4.0,3.9,
4.0,3.9,3.8,3.8,3.8,3.8,3.8,3.9,3.9,3.9,3.9,3.9,3.9];
const sprLatF150Err = [0.3,0.3,0.3,0.3,0.5,0.3,0.3,0.3,0.3,0.3,0.3,0.3,0.3,
0.3,0.3,0.3,0.3,0.3,0.3,0.3,0.3,0.3,0.3,0.3,0.3,0.3,
0.3,0.3,0.3,0.3,0.3,0.3,0.3,0.3,0.3,0.3,0.3,0.3,0.3,
0.3,0.3,0.3,0.3,0.3,0.3,0.3,0.3,0.3,0.3,0.3,0.3,0.3];
const sprLatF175 = [4.4,4.6,4.8,4.8,5.0,4.8,4.5,4.3,4.3,4.2,4.2,4.2,4.3,
4.6,4.6,4.6,4.6,4.5,4.4,4.3,4.2,4.1,4.0,3.9,3.9,3.8,
3.8,3.8,3.8,3.8,3.8,3.8,3.9,4.0,4.0,4.0,4.0,4.2,4.0,
4.2,4.1,4.0,3.9,3.9,3.9,3.9,4.0,4.0,4.0,4.0,4.0,4.0];
const sprLatF175Err = [0.3,0.3,0.3,0.3,0.8,0.3,0.3,0.3,0.3,0.3,0.3,0.3,0.3,
0.3,0.3,0.3,0.4,0.3,0.3,0.3,0.3,0.3,0.3,0.3,0.3,0.3,
0.3,0.3,0.3,0.3,0.3,0.3,0.3,0.3,0.3,0.3,0.3,0.5,0.3,
0.4,0.3,0.3,0.3,0.3,0.3,0.3,0.3,0.3,0.3,0.3,0.3,0.3];
const sprLatF200 = [6.2,6.3,6.5,6.6,6.9,6.5,6.3,6.2,7.4,6.2,6.2,6.2,7.4,
6.5,6.6,6.6,6.9,6.5,6.4,6.3,6.2,6.1,6.0,5.9,5.8,5.8,
5.8,5.8,5.8,5.8,5.8,5.8,5.8,5.8,5.8,5.8,5.9,6.5,6.1,
6.2,6.4,6.2,6.1,6.1,6.1,6.1,6.1,6.0,6.0,6.0,5.9,5.9];
const sprLatF200Err = [0.35,0.35,0.4,0.5,0.6,0.4,0.35,0.35,1.0,0.35,0.35,0.35,1.2,
0.4,0.4,0.4,0.9,0.4,0.35,0.35,0.35,0.35,0.35,0.35,0.35,0.35,
0.35,0.35,0.35,0.35,0.35,0.35,0.35,0.35,0.35,0.35,0.35,0.7,0.4,
0.4,0.6,0.4,0.35,0.35,0.35,0.35,0.35,0.35,0.35,0.35,0.35,0.35];

const sprLonF125 = [8.4,8.6,8.9,9.0,8.9,8.8,8.9,9.5,10.2,8.9,8.8,8.3,
8.2,8.2,8.2,8.2,8.2,8.3,8.7,8.3,8.3,8.4,9.2,8.4,
8.7,8.8,8.9,8.3,8.2,8.3,9.0,8.8,8.6,8.5,8.2,8.0,
8.0,8.0,8.0,8.9,9.0,8.0,7.9,7.9,7.9,7.9,7.9,7.9,
7.9,7.9,8.4,8.4,8.7,8.3,8.3,8.3,8.7,8.6,8.5,8.5,
8.5,8.5,8.5,8.5,8.6,9.0,8.3,8.3,8.3,8.3,8.3,8.3];
const sprLonF125Err = [0.15,0.15,0.2,0.2,0.2,0.2,0.2,0.6,0.9,0.2,0.2,0.15,
0.15,0.15,0.15,0.15,0.15,0.15,0.3,0.15,0.15,0.15,1.1,0.2,
0.3,0.3,0.3,0.15,0.15,0.15,1.0,0.3,0.2,0.15,0.15,0.15,
0.15,0.15,0.15,0.6,0.6,0.15,0.15,0.15,0.15,0.15,0.15,0.15,
0.15,0.15,0.2,0.2,0.4,0.15,0.15,0.15,0.2,0.15,0.15,0.15,
0.15,0.15,0.15,0.15,0.15,1.6,0.15,0.15,0.15,0.15,0.15,0.15];
const sprLonF150 = [4.3,4.4,4.4,4.5,4.5,4.4,4.5,4.6,5.0,4.3,4.2,4.0,
3.9,3.9,3.9,3.9,3.9,4.0,4.2,3.9,3.9,4.0,4.5,4.6,
4.4,4.5,4.4,4.0,3.9,3.9,4.5,4.0,3.9,3.8,3.7,3.7,
3.7,3.7,3.8,4.1,4.4,3.7,3.6,3.6,3.6,3.6,3.6,3.6,
3.6,3.6,4.0,4.1,4.0,3.9,3.9,4.0,4.1,4.0,4.0,4.0,
4.0,4.0,4.0,4.0,4.0,4.1,4.0,4.0,4.0,4.0,4.0,4.0];
const sprLonF150Err = [0.12,0.12,0.12,0.15,0.15,0.12,0.15,0.3,0.7,0.12,0.12,0.12,
0.12,0.12,0.12,0.12,0.12,0.12,0.15,0.12,0.12,0.12,0.8,0.3,
0.15,0.2,0.15,0.12,0.12,0.12,0.4,0.12,0.12,0.12,0.12,0.12,
0.12,0.12,0.12,0.2,0.7,0.12,0.12,0.12,0.12,0.12,0.12,0.12,
0.12,0.12,0.15,0.3,0.12,0.12,0.12,0.12,0.2,0.12,0.12,0.12,
0.12,0.12,0.12,0.12,0.12,0.2,0.12,0.12,0.12,0.12,0.12,0.12];
const sprLonF175 = [4.5,4.5,4.5,4.6,4.6,4.5,4.5,4.6,4.6,4.4,4.3,4.1,
4.0,4.0,4.0,4.0,4.0,4.1,4.3,4.0,4.0,4.1,4.6,5.1,
4.5,4.6,4.5,4.1,4.0,4.0,4.7,4.2,4.1,4.0,3.9,3.8,
3.8,3.8,3.9,4.2,4.3,3.8,3.8,3.8,3.8,3.8,3.8,3.8,
3.8,3.8,4.2,4.3,4.2,4.1,4.1,4.2,4.3,4.2,4.2,4.2,
4.2,4.2,4.2,4.2,4.2,4.3,4.2,4.2,4.2,4.2,4.2,4.2];
const sprLonF175Err = [0.12,0.12,0.12,0.15,0.15,0.12,0.12,0.3,0.2,0.12,0.12,0.12,
0.12,0.12,0.12,0.12,0.12,0.12,0.15,0.12,0.12,0.12,0.3,0.4,
0.2,0.2,0.2,0.12,0.12,0.12,0.5,0.12,0.12,0.12,0.12,0.12,
0.12,0.12,0.12,0.2,0.3,0.12,0.12,0.12,0.12,0.12,0.12,0.12,
0.12,0.12,0.15,0.3,0.12,0.12,0.12,0.12,0.2,0.12,0.12,0.12,
0.12,0.12,0.12,0.12,0.12,0.2,0.12,0.12,0.12,0.12,0.12,0.12];
const sprLonF200 = [6.4,6.4,6.5,7.1,6.5,6.4,6.4,6.5,6.6,6.4,6.3,6.3,
6.7,6.3,6.3,6.3,6.3,6.3,6.2,6.3,6.5,6.8,7.4,7.6,
7.3,7.4,7.2,6.6,6.3,6.3,9.4,6.4,6.2,6.1,6.0,6.0,
6.0,6.0,6.1,6.2,6.4,6.0,5.9,5.9,5.9,5.9,5.9,5.9,
5.9,5.9,6.0,7.3,6.2,6.2,6.2,6.3,6.3,6.3,6.3,6.3,
6.3,6.3,6.3,6.3,6.3,7.8,6.2,6.2,6.2,6.2,6.3,6.4];
const sprLonF200Err = [0.15,0.15,0.15,0.9,0.15,0.15,0.15,0.15,0.3,0.15,0.15,0.15,
0.5,0.15,0.15,0.15,0.15,0.15,0.15,0.15,0.2,0.3,0.4,0.4,
0.3,0.4,0.3,0.2,0.15,0.15,0.8,0.15,0.15,0.15,0.15,0.15,
0.15,0.15,0.15,0.15,0.2,0.15,0.15,0.15,0.15,0.15,0.15,0.15,
0.15,0.15,0.15,0.6,0.15,0.15,0.15,0.15,0.15,0.15,0.15,0.15,
0.15,0.15,0.15,0.15,0.15,2.8,0.15,0.15,0.15,0.15,0.15,0.15];

// ---------- B1 : summer ----------
const sumLatF125 = [9.0,9.1,9.2,9.3,9.2,9.0,8.8,8.6,8.5,8.5,8.4,8.4,8.4,
8.5,8.4,8.4,8.3,8.2,8.1,8.0,8.0,7.9,7.9,7.8,7.8,7.8,
7.8,7.8,7.9,7.9,8.0,8.0,8.0,8.1,8.1,8.2,8.1,8.2,8.2,
8.2,8.3,8.4,8.4,8.5,8.5,8.6,8.7,9.0,10.0,8.6,8.5,8.9];
const sumLatF125Err = [0.5,0.5,0.5,0.5,0.5,0.5,0.45,0.45,0.45,0.45,0.45,0.45,0.45,
0.45,0.45,0.45,0.45,0.45,0.45,0.45,0.45,0.45,0.45,0.45,0.45,0.45,
0.45,0.45,0.45,0.45,0.45,0.45,0.45,0.45,0.45,0.45,0.45,0.45,0.45,
0.45,0.45,0.45,0.45,0.45,0.45,0.45,0.45,0.5,0.8,0.45,0.45,0.5];
const sumLatF150 = [4.5,4.6,4.5,4.5,4.5,4.4,4.4,4.3,4.3,4.3,4.2,4.2,4.2,
4.2,4.2,4.2,4.1,4.0,4.0,3.9,3.9,3.8,3.8,3.7,3.7,3.7,
3.7,3.7,3.7,3.7,3.7,3.8,3.8,3.8,3.8,3.8,3.9,3.9,3.9,
3.9,3.9,3.9,4.0,4.0,4.0,4.1,4.2,4.3,5.3,4.2,4.2,4.4];
const sumLatF150Err = [0.2,0.2,0.2,0.2,0.2,0.2,0.2,0.2,0.2,0.2,0.2,0.2,0.2,
0.2,0.2,0.2,0.2,0.2,0.2,0.2,0.2,0.2,0.2,0.2,0.2,0.2,
0.2,0.2,0.2,0.2,0.2,0.2,0.2,0.2,0.2,0.2,0.2,0.2,0.2,
0.2,0.2,0.2,0.2,0.2,0.2,0.2,0.2,0.25,0.5,0.2,0.2,0.25];
const sumLatF175 = [4.6,4.7,4.6,4.6,4.6,4.5,4.5,4.4,4.4,4.4,4.3,4.3,4.3,
4.3,4.3,4.3,4.2,4.1,4.1,4.0,4.0,3.9,3.9,3.8,3.8,3.8,
3.8,3.8,3.8,3.8,3.8,3.9,3.9,3.9,3.9,3.9,4.0,4.0,4.0,
4.0,4.0,4.0,4.1,4.1,4.1,4.2,4.3,4.4,5.1,4.3,4.3,4.6];
const sumLatF175Err = [0.25,0.25,0.25,0.25,0.25,0.25,0.25,0.25,0.25,0.25,0.25,0.25,0.25,
0.25,0.25,0.25,0.25,0.25,0.25,0.25,0.25,0.25,0.25,0.25,0.25,0.25,
0.25,0.25,0.25,0.25,0.25,0.25,0.25,0.25,0.25,0.25,0.25,0.25,0.25,
0.25,0.25,0.25,0.25,0.25,0.25,0.25,0.25,0.25,0.4,0.25,0.25,0.25];
const sumLatF200 = [6.5,6.6,6.6,6.5,6.5,6.4,6.4,6.3,6.3,6.4,6.4,6.5,6.4,
6.4,6.5,6.3,6.3,6.2,6.2,6.1,6.1,6.0,6.0,6.0,6.0,6.0,
6.0,6.0,6.0,6.0,6.0,6.0,6.1,6.1,6.1,6.2,6.2,6.7,6.2,
6.3,6.3,6.4,6.4,6.4,6.4,6.5,6.5,6.6,6.7,6.7,6.4,6.8];
const sumLatF200Err = [0.3,0.3,0.3,0.3,0.3,0.3,0.3,0.3,0.3,0.3,0.3,0.3,0.3,
0.3,0.3,0.3,0.3,0.3,0.3,0.3,0.3,0.3,0.3,0.3,0.3,0.3,
0.3,0.3,0.3,0.3,0.3,0.3,0.3,0.3,0.3,0.3,0.3,0.6,0.3,
0.3,0.3,0.3,0.3,0.3,0.3,0.3,0.3,0.3,0.35,0.3,0.3,0.35];

const sumLonF125 = [8.6,8.5,8.5,8.6,8.6,8.5,8.6,8.8,9.2,10.2,8.8,12.0,
8.6,8.6,8.3,8.2,8.2,8.2,8.3,8.4,8.6,9.2,9.4,8.7,
8.5,8.5,8.4,8.3,8.2,8.1,8.0,8.0,8.0,8.0,8.0,8.0,
8.0,8.0,8.0,8.0,8.0,8.0,8.0,8.0,8.0,8.0,8.0,8.1,
8.1,8.2,8.6,9.0,9.0,8.9,9.1,9.5,9.0,8.6,8.4,8.4,
8.4,8.4,8.4,8.4,8.4,8.3,8.3,8.3,8.3,8.3,8.3,8.3];
const sumLonF125Err = [0.15,0.15,0.15,0.2,0.2,0.15,0.2,0.3,0.4,1.0,0.3,1.2,
0.3,0.15,0.15,0.15,0.15,0.15,0.15,0.15,0.2,0.3,0.5,0.2,
0.15,0.15,0.15,0.15,0.15,0.15,0.15,0.15,0.15,0.15,0.15,0.15,
0.15,0.15,0.15,0.15,0.15,0.15,0.15,0.15,0.15,0.15,0.15,0.15,
0.15,0.15,0.2,0.3,0.3,0.3,0.3,0.4,0.3,0.2,0.15,0.15,
0.15,0.15,0.15,0.15,0.15,0.15,0.15,0.15,0.15,0.15,0.15,0.15];
const sumLonF150 = [4.3,4.3,4.3,4.4,4.4,4.3,4.3,4.4,4.6,5.4,4.5,6.6,
4.6,4.2,4.1,4.0,4.0,4.0,4.0,4.1,4.3,4.8,5.0,4.4,
4.2,4.1,4.0,4.0,3.9,3.9,3.9,3.9,3.9,3.9,3.9,3.9,
3.9,3.9,3.9,3.9,3.9,3.9,3.9,3.9,3.9,3.9,3.9,3.9,
3.9,4.0,4.2,4.5,4.5,4.4,4.5,4.9,4.5,4.2,4.1,4.1,
4.1,4.1,4.1,4.1,4.1,4.1,4.1,4.1,4.1,4.1,4.1,4.1];
const sumLonF150Err = [0.12,0.12,0.12,0.12,0.12,0.12,0.12,0.15,0.2,0.5,0.2,0.8,
0.2,0.12,0.12,0.12,0.12,0.12,0.12,0.12,0.15,0.3,0.4,0.15,
0.12,0.12,0.12,0.12,0.12,0.12,0.12,0.12,0.12,0.12,0.12,0.12,
0.12,0.12,0.12,0.12,0.12,0.12,0.12,0.12,0.12,0.12,0.12,0.12,
0.12,0.12,0.15,0.2,0.2,0.2,0.2,0.4,0.2,0.15,0.12,0.12,
0.12,0.12,0.12,0.12,0.12,0.12,0.12,0.12,0.12,0.12,0.12,0.12];
const sumLonF175 = [4.4,4.4,4.4,4.5,4.5,4.4,4.4,4.5,4.7,5.2,4.6,6.2,
4.7,4.3,4.2,4.2,4.2,4.2,4.2,4.3,4.5,4.9,5.0,4.5,
4.3,4.3,4.2,4.2,4.1,4.1,4.1,4.1,4.1,4.1,4.1,4.1,
4.1,4.1,4.1,4.1,4.1,4.1,4.1,4.1,4.1,4.1,4.1,4.1,
4.1,4.2,4.4,4.6,4.6,4.5,4.6,4.9,4.6,4.4,4.3,4.3,
4.3,4.3,4.3,4.3,4.3,4.3,4.3,4.3,4.3,4.3,4.3,4.3];
const sumLonF175Err = [0.12,0.12,0.12,0.12,0.12,0.12,0.12,0.15,0.2,0.3,0.2,0.6,
0.2,0.12,0.12,0.12,0.12,0.12,0.12,0.12,0.15,0.2,0.3,0.15,
0.12,0.12,0.12,0.12,0.12,0.12,0.12,0.12,0.12,0.12,0.12,0.12,
0.12,0.12,0.12,0.12,0.12,0.12,0.12,0.12,0.12,0.12,0.12,0.12,
0.12,0.12,0.15,0.2,0.2,0.2,0.2,0.3,0.2,0.15,0.12,0.12,
0.12,0.12,0.12,0.12,0.12,0.12,0.12,0.12,0.12,0.12,0.12,0.12];
const sumLonF200 = [6.6,6.6,6.6,6.8,7.0,6.6,6.5,6.6,6.8,7.2,6.8,8.0,
6.9,6.6,6.5,6.4,6.4,6.4,6.4,6.5,6.6,6.8,7.1,6.8,
6.6,6.6,6.5,6.5,6.4,6.4,6.4,6.4,6.4,6.4,6.4,6.4,
6.4,6.4,6.4,6.4,6.4,6.4,6.4,6.4,6.4,6.4,6.4,6.4,
6.4,6.5,6.7,6.9,6.9,6.8,6.9,7.0,7.6,6.8,6.6,6.5,
6.5,6.5,6.5,6.5,6.5,6.5,6.5,6.5,6.5,6.5,6.6,6.6];
const sumLonF200Err = [0.15,0.15,0.15,0.2,0.3,0.15,0.15,0.15,0.2,0.4,0.2,0.8,
0.3,0.15,0.15,0.15,0.15,0.15,0.15,0.15,0.15,0.2,0.3,0.2,
0.15,0.15,0.15,0.15,0.15,0.15,0.15,0.15,0.15,0.15,0.15,0.15,
0.15,0.15,0.15,0.15,0.15,0.15,0.15,0.15,0.15,0.15,0.15,0.15,
0.15,0.15,0.2,0.2,0.2,0.2,0.2,0.3,0.5,0.2,0.15,0.15,
0.15,0.15,0.15,0.15,0.15,0.15,0.15,0.15,0.15,0.15,0.15,0.15];

// ---------- B1 : autumn ----------
const autLatF125 = [8.6,8.8,8.9,9.2,9.0,8.8,8.6,8.5,8.5,8.4,8.4,8.4,8.3,
8.3,8.2,8.2,8.1,8.1,8.0,8.0,7.9,7.9,7.8,7.8,7.8,7.7,
7.7,7.7,7.7,7.7,7.8,8.0,8.5,8.9,8.5,8.3,8.2,8.2,8.2,
8.2,8.2,8.2,8.3,8.3,8.3,8.4,8.5,9.8,8.2,7.9,7.8,7.8];
const autLatF125Err = [0.45,0.5,0.5,0.7,0.5,0.45,0.45,0.45,0.45,0.45,0.45,0.45,0.45,
0.45,0.45,0.45,0.45,0.45,0.45,0.45,0.45,0.45,0.45,0.45,0.45,0.45,
0.45,0.45,0.45,0.45,0.45,0.45,0.45,0.5,0.45,0.45,0.45,0.45,0.45,
0.45,0.45,0.45,0.45,0.45,0.45,0.45,0.5,1.0,0.45,0.45,0.45,0.45];
const autLatF150 = [4.3,4.4,4.5,4.5,4.5,4.4,4.3,4.2,4.2,4.2,4.1,4.1,4.1,
4.0,4.0,4.0,3.9,3.9,3.9,3.8,3.8,3.8,3.7,3.7,3.7,3.7,
3.7,3.7,3.7,3.7,3.8,3.9,4.2,4.6,4.1,3.9,3.8,3.8,3.8,
3.8,3.8,3.8,3.8,3.8,3.8,3.8,3.9,5.3,3.9,3.7,3.7,3.7];
const autLatF150Err = [0.2,0.2,0.2,0.2,0.2,0.2,0.2,0.2,0.2,0.2,0.2,0.2,0.2,
0.2,0.2,0.2,0.2,0.2,0.2,0.2,0.2,0.2,0.2,0.2,0.2,0.2,
0.2,0.2,0.2,0.2,0.2,0.2,0.25,0.3,0.2,0.2,0.2,0.2,0.2,
0.2,0.2,0.2,0.2,0.2,0.2,0.2,0.2,0.4,0.2,0.2,0.2,0.2];
const autLatF175 = [4.4,4.5,4.6,4.6,4.6,4.5,4.4,4.3,4.3,4.3,4.2,4.2,4.2,
4.1,4.1,4.1,4.0,4.0,4.0,3.9,3.9,3.9,3.8,3.8,3.8,3.8,
3.8,3.8,3.8,3.8,3.9,4.0,4.3,4.7,4.2,4.0,3.9,3.9,3.9,
3.9,3.9,3.9,3.9,3.9,3.9,3.9,4.0,5.0,4.0,3.8,3.8,3.8];
const autLatF175Err = [0.25,0.25,0.25,0.25,0.25,0.25,0.25,0.25,0.25,0.25,0.25,0.25,0.25,
0.25,0.25,0.25,0.25,0.25,0.25,0.25,0.25,0.25,0.25,0.25,0.25,0.25,
0.25,0.25,0.25,0.25,0.25,0.25,0.3,0.35,0.25,0.25,0.25,0.25,0.25,
0.25,0.25,0.25,0.25,0.25,0.25,0.25,0.25,0.4,0.25,0.25,0.25,0.25];
const autLatF200 = [6.2,6.3,6.4,6.5,6.4,6.4,6.3,6.3,6.2,6.2,6.2,6.2,6.2,
6.2,6.2,6.2,6.1,6.1,6.0,6.0,5.9,5.9,5.8,5.8,5.8,5.8,
5.8,5.8,5.8,5.8,5.9,6.0,6.4,7.0,6.4,6.3,6.2,6.2,6.3,
6.8,6.4,7.2,6.4,7.0,6.3,6.2,6.4,6.7,6.2,6.0,5.9,5.8];
const autLatF200Err = [0.3,0.3,0.3,0.3,0.3,0.3,0.3,0.3,0.3,0.3,0.3,0.3,0.3,
0.3,0.3,0.3,0.3,0.3,0.3,0.3,0.3,0.3,0.3,0.3,0.3,0.3,
0.3,0.3,0.3,0.3,0.3,0.3,0.35,0.5,0.35,0.3,0.3,0.3,0.3,
0.5,0.35,0.5,0.35,0.5,0.3,0.3,0.3,0.4,0.3,0.3,0.3,0.3];

const autLonF125 = [8.7,8.6,8.5,8.6,8.5,8.4,8.4,8.2,8.0,8.0,9.6,8.1,
8.0,8.0,8.0,8.0,8.1,8.3,9.4,8.2,8.2,9.0,8.4,8.6,
8.2,8.0,9.4,8.0,8.0,8.2,8.0,8.4,7.9,7.9,7.9,7.9,
7.9,7.9,7.9,7.9,7.9,7.9,7.9,7.9,7.9,7.9,7.9,7.9,
7.9,8.0,11.4,8.4,8.2,8.5,9.8,10.4,9.5,8.8,8.6,8.4,
8.2,8.2,8.6,8.0,7.9,8.6,7.8,7.8,7.8,7.8,7.8,7.8];
const autLonF125Err = [0.15,0.15,0.15,0.15,0.15,0.15,0.15,0.15,0.15,0.15,0.8,0.15,
0.15,0.15,0.15,0.15,0.15,0.2,0.6,0.15,0.15,0.4,0.2,0.3,
0.15,0.15,0.6,0.15,0.15,0.2,0.15,0.3,0.15,0.15,0.15,0.15,
0.15,0.15,0.15,0.15,0.15,0.15,0.15,0.15,0.15,0.15,0.15,0.15,
0.15,0.15,1.2,0.2,0.2,0.3,0.5,0.5,0.4,0.3,0.2,0.15,
0.15,0.15,0.3,0.15,0.15,0.3,0.15,0.15,0.15,0.15,0.15,0.15];
const autLonF150 = [4.5,4.5,4.5,4.5,4.4,4.3,4.3,4.2,4.1,4.1,4.5,4.0,
3.9,3.9,3.9,3.9,3.9,4.1,5.5,4.1,4.1,5.0,4.2,5.8,
4.0,3.9,4.8,3.9,3.8,3.9,3.8,3.9,3.8,3.8,3.8,3.8,
3.8,3.8,3.8,3.8,3.8,3.8,3.8,3.8,3.8,3.8,3.8,3.8,
3.8,3.9,6.3,4.2,4.1,4.2,5.2,5.7,4.7,4.3,4.1,4.0,
3.9,3.9,4.0,3.9,4.3,3.9,3.8,3.8,3.8,3.8,3.8,3.8];
const autLonF150Err = [0.12,0.12,0.12,0.12,0.12,0.12,0.12,0.12,0.12,0.12,0.3,0.12,
0.12,0.12,0.12,0.12,0.12,0.12,0.5,0.12,0.12,0.4,0.12,0.6,
0.12,0.12,0.3,0.12,0.12,0.12,0.12,0.12,0.12,0.12,0.12,0.12,
0.12,0.12,0.12,0.12,0.12,0.12,0.12,0.12,0.12,0.12,0.12,0.12,
0.12,0.12,0.7,0.15,0.12,0.15,0.4,0.5,0.3,0.15,0.12,0.12,
0.12,0.12,0.12,0.12,0.3,0.12,0.12,0.12,0.12,0.12,0.12,0.12];
const autLonF175 = [4.6,4.6,4.6,4.6,4.5,4.4,4.4,4.3,4.2,4.2,4.6,4.1,
4.0,4.0,4.0,4.0,4.0,4.2,5.4,4.2,4.2,4.9,4.3,5.6,
4.1,4.0,4.7,4.0,3.9,4.0,3.9,4.0,3.9,3.9,3.9,3.9,
3.9,3.9,3.9,3.9,3.9,3.9,3.9,3.9,3.9,3.9,3.9,3.9,
3.9,4.0,6.0,4.3,4.2,4.3,5.2,5.6,4.8,4.4,4.2,4.1,
4.0,4.0,4.1,4.0,4.4,4.0,3.9,3.9,3.9,3.9,3.9,3.9];
const autLonF175Err = [0.12,0.12,0.12,0.12,0.12,0.12,0.12,0.12,0.12,0.12,0.3,0.12,
0.12,0.12,0.12,0.12,0.12,0.12,0.4,0.12,0.12,0.3,0.12,0.5,
0.12,0.12,0.3,0.12,0.12,0.12,0.12,0.12,0.12,0.12,0.12,0.12,
0.12,0.12,0.12,0.12,0.12,0.12,0.12,0.12,0.12,0.12,0.12,0.12,
0.12,0.12,0.5,0.15,0.12,0.15,0.4,0.4,0.3,0.15,0.12,0.12,
0.12,0.12,0.12,0.12,0.2,0.12,0.12,0.12,0.12,0.12,0.12,0.12];
const autLonF200 = [6.6,6.6,6.6,6.6,6.5,6.4,6.3,6.3,6.2,6.2,8.6,6.1,
6.0,6.0,6.0,6.0,6.0,6.1,7.0,6.1,6.1,6.4,6.3,7.2,
6.1,6.0,6.6,6.0,6.0,6.0,6.0,6.1,6.0,6.0,6.0,6.0,
6.0,6.0,6.0,6.0,6.0,6.0,6.0,6.0,6.0,6.0,6.0,6.0,
6.0,6.1,8.8,6.4,6.2,6.4,7.8,8.0,7.0,6.6,6.4,6.3,
6.2,6.2,6.3,6.2,7.8,6.2,6.0,6.0,6.0,6.0,6.0,6.0];
const autLonF200Err = [0.15,0.15,0.15,0.15,0.15,0.15,0.15,0.15,0.15,0.15,0.5,0.15,
0.15,0.15,0.15,0.15,0.15,0.15,0.5,0.15,0.15,0.3,0.15,0.4,
0.15,0.15,0.3,0.15,0.15,0.15,0.15,0.15,0.15,0.15,0.15,0.15,
0.15,0.15,0.15,0.15,0.15,0.15,0.15,0.15,0.15,0.15,0.15,0.15,
0.15,0.15,0.8,0.2,0.15,0.2,0.6,0.5,0.4,0.2,0.15,0.15,
0.15,0.15,0.15,0.15,0.5,0.15,0.15,0.15,0.15,0.15,0.15,0.15];

// ---------- B1 : winter ----------
const winLatF125 = [8.1,8.2,8.3,8.5,8.5,8.5,8.2,8.0,8.0,8.0,8.0,8.0,8.0,
8.0,8.1,8.2,8.2,8.2,8.1,8.0,8.1,7.8,7.6,7.4,7.3,7.3,
7.3,7.3,7.3,7.3,7.3,7.3,7.3,7.4,7.4,7.5,7.5,7.5,7.5,
7.9,7.6,7.6,7.5,7.4,7.4,7.4,7.5,7.5,7.5,7.5,7.5,7.5];
const winLatF125Err = [0.45,0.45,0.45,0.45,0.45,0.45,0.45,0.45,0.45,0.45,0.45,0.45,0.45,
0.45,0.45,0.45,0.45,0.45,0.45,0.45,0.45,0.45,0.45,0.45,0.45,0.45,
0.45,0.45,0.45,0.45,0.45,0.45,0.45,0.45,0.45,0.45,0.45,0.45,0.45,
0.45,0.45,0.45,0.45,0.45,0.45,0.45,0.45,0.45,0.45,0.45,0.45,0.45];
const winLatF150 = [4.0,4.0,4.1,4.6,4.4,4.6,4.2,4.0,4.0,4.0,4.0,4.0,4.0,
4.0,4.0,4.1,4.2,4.2,4.1,4.1,4.1,4.0,3.8,3.6,3.6,3.6,
3.6,3.6,3.6,3.6,3.6,3.6,3.6,3.6,3.6,3.6,3.6,3.6,3.6,
3.7,3.7,3.7,3.7,3.6,3.6,3.6,3.6,3.6,3.6,3.6,3.6,3.6];
const winLatF150Err = [0.2,0.2,0.2,0.3,0.2,0.3,0.2,0.2,0.2,0.2,0.2,0.2,0.2,
0.2,0.2,0.2,0.2,0.2,0.2,0.2,0.2,0.2,0.2,0.2,0.2,0.2,
0.2,0.2,0.2,0.2,0.2,0.2,0.2,0.2,0.2,0.2,0.2,0.2,0.2,
0.2,0.2,0.2,0.2,0.2,0.2,0.2,0.2,0.2,0.2,0.2,0.2,0.2];
const winLatF175 = [4.3,4.3,4.4,5.0,4.6,4.8,4.4,4.2,4.2,4.2,4.2,4.2,4.2,
4.2,4.2,4.3,4.4,4.4,4.3,4.3,4.3,4.2,4.0,3.8,3.8,3.8,
3.8,3.8,3.8,3.8,3.8,3.8,3.8,3.8,3.8,3.8,3.8,3.8,3.8,
3.9,3.9,4.0,3.9,3.8,3.8,3.8,3.8,3.8,3.8,3.9,3.9,3.9];
const winLatF175Err = [0.25,0.25,0.25,0.8,0.3,0.4,0.25,0.25,0.25,0.25,0.25,0.25,0.25,
0.25,0.25,0.25,0.3,0.25,0.25,0.25,0.25,0.25,0.25,0.25,0.25,0.25,
0.25,0.25,0.25,0.25,0.25,0.25,0.25,0.25,0.25,0.25,0.25,0.25,0.25,
0.3,0.25,0.35,0.25,0.25,0.25,0.25,0.25,0.25,0.25,0.25,0.25,0.25];
const winLatF200 = [6.2,6.3,6.5,7.2,6.8,6.9,6.5,6.5,6.4,6.4,6.5,6.5,6.5,
6.5,6.5,6.5,6.6,6.8,6.5,6.4,6.4,6.3,6.1,6.0,6.0,6.0,
6.0,6.0,6.0,6.0,6.0,6.0,6.0,6.0,6.0,6.0,6.0,6.1,6.2,
8.0,6.6,7.4,6.4,6.2,6.2,6.2,6.2,6.2,6.1,6.1,6.1,6.1];
const winLatF200Err = [0.3,0.3,0.3,0.6,0.3,0.35,0.3,0.3,0.3,0.3,0.3,0.3,0.3,
0.3,0.3,0.3,0.3,0.5,0.3,0.3,0.3,0.3,0.3,0.3,0.3,0.3,
0.3,0.3,0.3,0.3,0.3,0.3,0.3,0.3,0.3,0.3,0.3,0.3,0.3,
2.1,0.4,1.0,0.3,0.3,0.3,0.3,0.3,0.3,0.3,0.3,0.3,0.3];

const winLonF125 = [8.8,8.5,8.6,8.9,9.4,9.2,8.5,8.3,8.1,8.1,7.8,7.5,
7.4,7.4,7.4,7.4,7.5,7.6,7.6,7.7,7.8,7.8,9.3,8.0,
8.3,8.5,8.3,8.3,8.2,8.3,8.3,8.0,7.5,7.5,7.7,7.5,
7.6,8.1,8.2,7.8,8.3,7.7,7.4,7.7,7.7,7.3,7.3,7.3,
7.3,7.3,7.3,7.3,7.3,7.3,7.4,7.5,8.1,7.9,7.9,7.9,
7.9,7.9,7.9,7.9,7.9,7.9,7.9,7.9,7.9,7.9,7.9,8.2];
const winLonF125Err = [0.3,0.2,0.2,0.4,0.5,0.4,0.2,0.2,0.2,0.15,0.15,0.15,
0.15,0.15,0.15,0.15,0.15,0.15,0.2,0.2,0.2,0.2,1.6,0.2,
0.3,0.4,0.3,0.3,0.3,0.4,0.3,0.2,0.15,0.15,0.2,0.15,
0.15,0.3,0.3,0.15,0.5,0.2,0.15,0.3,0.2,0.15,0.15,0.15,
0.15,0.15,0.15,0.15,0.15,0.15,0.15,0.15,0.3,0.15,0.15,0.15,
0.15,0.15,0.15,0.15,0.15,0.15,0.15,0.15,0.15,0.15,0.15,0.3];
const winLonF150 = [4.3,4.2,4.3,4.5,4.9,4.8,4.2,4.1,4.0,3.8,3.7,3.6,
3.5,3.5,3.5,3.5,3.5,3.5,3.6,3.6,3.7,3.7,4.5,4.0,
4.2,4.7,4.3,4.2,4.2,4.8,4.0,3.8,3.7,3.7,3.8,3.7,
3.7,3.8,3.8,3.7,3.8,3.6,3.5,3.6,3.5,3.5,3.5,3.5,
3.5,3.5,3.5,3.5,3.6,3.6,3.7,3.8,4.2,4.0,4.0,4.0,
4.0,4.0,4.0,4.0,4.0,4.0,4.0,4.0,4.0,4.0,4.0,4.1];
const winLonF150Err = [0.15,0.12,0.15,0.2,0.3,0.3,0.12,0.12,0.12,0.12,0.12,0.12,
0.12,0.12,0.12,0.12,0.12,0.12,0.12,0.12,0.12,0.12,1.0,0.15,
0.2,0.5,0.2,0.2,0.2,0.6,0.15,0.12,0.12,0.12,0.12,0.12,
0.12,0.12,0.12,0.12,0.5,0.12,0.12,0.12,0.12,0.12,0.12,0.12,
0.12,0.12,0.12,0.12,0.12,0.12,0.12,0.12,0.2,0.12,0.12,0.12,
0.12,0.12,0.12,0.12,0.12,0.12,0.12,0.12,0.12,0.12,0.12,0.2];
const winLonF175 = [5.2,4.6,4.6,4.7,5.0,4.9,4.3,4.2,4.1,4.0,3.9,3.8,
3.7,3.7,3.7,3.7,3.7,3.7,3.8,3.8,3.9,3.9,4.6,4.2,
4.4,4.9,4.4,4.3,4.4,5.0,4.2,4.0,3.9,3.9,4.0,3.9,
3.9,4.0,4.0,3.9,4.1,3.9,3.8,3.9,3.8,3.8,3.8,3.8,
3.8,3.8,3.8,3.8,3.8,3.9,3.9,4.0,4.5,4.3,4.2,4.2,
4.2,4.2,4.2,4.2,4.2,4.2,4.2,4.2,4.2,4.2,4.2,4.3];
const winLonF175Err = [0.5,0.15,0.15,0.2,0.4,0.3,0.12,0.12,0.12,0.12,0.12,0.12,
0.12,0.12,0.12,0.12,0.12,0.12,0.12,0.12,0.12,0.12,1.0,0.15,
0.2,0.5,0.2,0.2,0.2,0.6,0.15,0.12,0.12,0.12,0.12,0.12,
0.12,0.12,0.12,0.12,0.2,0.12,0.12,0.12,0.12,0.12,0.12,0.12,
0.12,0.12,0.12,0.12,0.12,0.12,0.12,0.12,0.3,0.12,0.12,0.12,
0.12,0.12,0.12,0.12,0.12,0.12,0.12,0.12,0.12,0.3,0.12,0.2];
const winLonF200 = [7.3,7.2,7.1,7.3,7.9,7.0,6.6,6.4,6.3,6.2,6.0,5.8,
5.8,5.8,5.8,5.8,5.8,5.8,5.8,5.8,5.8,5.8,6.4,6.2,
6.5,7.0,6.4,6.3,6.2,7.4,6.3,6.0,6.0,6.1,6.3,6.1,
6.1,6.1,6.1,6.2,6.3,6.0,5.8,5.8,5.8,5.8,5.8,5.8,
5.8,5.8,5.8,5.8,5.8,5.8,5.8,5.9,7.7,6.1,6.1,6.1,
6.1,6.1,6.1,6.1,6.1,6.2,6.3,6.4,6.5,8.6,7.2,7.2];
const winLonF200Err = [0.2,0.15,0.15,0.2,0.4,0.2,0.15,0.15,0.15,0.15,0.15,0.15,
0.15,0.15,0.15,0.15,0.15,0.15,0.15,0.15,0.15,0.15,0.3,0.15,
0.2,0.4,0.2,0.2,0.2,0.6,0.2,0.15,0.15,0.15,0.2,0.15,
0.15,0.15,0.15,0.15,0.2,0.15,0.15,0.15,0.15,0.15,0.15,0.15,
0.15,0.15,0.15,0.15,0.15,0.15,0.15,0.15,1.9,0.15,0.15,0.15,
0.15,0.15,0.15,0.15,0.15,0.15,0.15,0.2,0.5,3.4,0.3,0.3];

// ---------- panel table ----------
const panelList = [
  {col:0,row:0,kind:'lat',band:0,lines:[sprLatF25,sprLatF50,sprLatF75,sprLatF100],errs:[sprLatF25Err,sprLatF50Err,sprLatF75Err,sprLatF100Err]},
  {col:0,row:1,kind:'lat',band:0,lines:[sumLatF25,sumLatF50,sumLatF75,sumLatF100],errs:[sumLatF25Err,sumLatF50Err,sumLatF75Err,sumLatF100Err]},
  {col:0,row:2,kind:'lat',band:0,lines:[autLatF25,autLatF50,autLatF75,autLatF100],errs:[autLatF25Err,autLatF50Err,autLatF75Err,autLatF100Err]},
  {col:0,row:3,kind:'lat',band:0,lines:[winLatF25,winLatF50,winLatF75,winLatF100],errs:[winLatF25Err,winLatF50Err,winLatF75Err,winLatF100Err]},
  {col:1,row:0,kind:'lon',band:0,lines:[sprLonF25,sprLonF50,sprLonF75,sprLonF100],errs:[sprLonF25Err,sprLonF50Err,sprLonF75Err,sprLonF100Err]},
  {col:1,row:1,kind:'lon',band:0,lines:[sumLonF25,sumLonF50,sumLonF75,sumLonF100],errs:[sumLonF25Err,sumLonF50Err,sumLonF75Err,sumLonF100Err]},
  {col:1,row:2,kind:'lon',band:0,lines:[autLonF25,autLonF50,autLonF75,autLonF100],errs:[autLonF25Err,autLonF50Err,autLonF75Err,autLonF100Err]},
  {col:1,row:3,kind:'lon',band:0,lines:[winLonF25,winLonF50,winLonF75,winLonF100],errs:[winLonF25Err,winLonF50Err,winLonF75Err,winLonF100Err]},
  {col:2,row:0,kind:'lat',band:1,lines:[sprLatF125,sprLatF150,sprLatF175,sprLatF200],errs:[sprLatF125Err,sprLatF150Err,sprLatF175Err,sprLatF200Err]},
  {col:2,row:1,kind:'lat',band:1,lines:[sumLatF125,sumLatF150,sumLatF175,sumLatF200],errs:[sumLatF125Err,sumLatF150Err,sumLatF175Err,sumLatF200Err]},
  {col:2,row:2,kind:'lat',band:1,lines:[autLatF125,autLatF150,autLatF175,autLatF200],errs:[autLatF125Err,autLatF150Err,autLatF175Err,autLatF200Err]},
  {col:2,row:3,kind:'lat',band:1,lines:[winLatF125,winLatF150,winLatF175,winLatF200],errs:[winLatF125Err,winLatF150Err,winLatF175Err,winLatF200Err]},
  {col:3,row:0,kind:'lon',band:1,lines:[sprLonF125,sprLonF150,sprLonF175,sprLonF200],errs:[sprLonF125Err,sprLonF150Err,sprLonF175Err,sprLonF200Err]},
  {col:3,row:1,kind:'lon',band:1,lines:[sumLonF125,sumLonF150,sumLonF175,sumLonF200],errs:[sumLonF125Err,sumLonF150Err,sumLonF175Err,sumLonF200Err]},
  {col:3,row:2,kind:'lon',band:1,lines:[autLonF125,autLonF150,autLonF175,autLonF200],errs:[autLonF125Err,autLonF150Err,autLonF175Err,autLonF200Err]},
  {col:3,row:3,kind:'lon',band:1,lines:[winLonF125,winLonF150,winLonF175,winLonF200],errs:[winLonF125Err,winLonF150Err,winLonF175Err,winLonF200Err]}
];

// ---------- layout and style ----------
const FONT = '"Liberation Serif", "Times New Roman", serif';
const INK = '#151515';
const lineColors = ['#1c1c1c', '#e3342f', '#33a043', '#4a4aa8'];
const colLeft = [91, 492, 995, 1395];
const colWidth = [391, 391, 388, 390];
const rowTop = [39, 245, 451, 657];
const rowHeight = 194;
const yRange = [[2.8, 61.4], [2, 15.2]];

// minor tick positions: even subdivisions between major ticks
function subdivide(start, end, step, majors) {
  const out = [];
  for (let v = start; v <= end + 1e-9; v += step) {
    const r = Math.round(v * 100) / 100;
    if (!majors.some(m => Math.abs(m - r) < 1e-6)) out.push(r);
  }
  return out;
}
const latMinor = subdivide(-65, 65, 5, latTicks);
const lonMinor = subdivide(0, 360, 10, lonTicks);
const b0Minor = subdivide(3, 61, 1, b0Ticks);
const b1Minor = subdivide(2, 15, 0.5, b1Ticks);

const richLabel = {
  m: {fontFamily: FONT, fontSize: 18, color: INK},
  s: {fontFamily: FONT, fontSize: 11, color: INK, verticalAlign: 'top', lineHeight: 12}
};
function yLabelB0(v) { return '{m|' + Math.round(v / 10) + '×10}{s|-8}'; }
function yLabelB1(v) {
  return v >= 10 ? '{m|' + (v / 10).toFixed(1) + '×10}{s|-8}' : '{m|' + v.toFixed(1) + '×10}{s|-9}';
}

const grids = [], xAxes = [], yAxes = [], series = [];

function xAxisDef(g, pos, range, ticks, len, labels, name) {
  return {
    type: 'value', gridIndex: g, position: pos, min: range[0], max: range[1],
    axisLine: {show: false, onZero: false},
    splitLine: {show: false},
    axisTick: {show: true, inside: true, length: len, customValues: ticks, lineStyle: {color: INK, width: 1.2}},
    axisLabel: labels ? {show: true, customValues: ticks, margin: 7, fontFamily: FONT, fontSize: 18, color: INK} : {show: false},
    name: name || '', nameLocation: 'middle', nameGap: 27,
    nameTextStyle: {fontFamily: FONT, fontSize: 18, color: INK}
  };
}
function yAxisDef(g, pos, range, ticks, len, labelFn, withName, gap) {
  return {
    type: 'value', gridIndex: g, position: pos, min: range[0], max: range[1],
    axisLine: {show: false, onZero: false},
    splitLine: {show: false},
    axisTick: {show: true, inside: true, length: len, customValues: ticks, lineStyle: {color: INK, width: 1.2}},
    axisLabel: labelFn ? {show: true, customValues: ticks, margin: 5, formatter: labelFn, rich: richLabel} : {show: false},
    name: withName ? '{a|nT}{s|2}{a|Hz}{s|-1}' : '', nameLocation: 'middle', nameRotate: 90, nameGap: gap || 0,
    nameTextStyle: {rich: {
      a: {fontFamily: FONT, fontSize: 18, color: INK},
      s: {fontFamily: FONT, fontSize: 11, color: INK, verticalAlign: 'top', lineHeight: 12}
    }}
  };
}

panelList.forEach(p => {
  const g = grids.length;
  grids.push({
    left: colLeft[p.col], top: rowTop[p.row], width: colWidth[p.col], height: rowHeight,
    show: true, borderColor: INK, borderWidth: 1.5, backgroundColor: 'transparent',
    containLabel: false, outerBoundsMode: 'none'
  });
  const isLat = p.kind === 'lat';
  const xr = isLat ? [-65, 65] : [0, 360];
  const xMaj = isLat ? latTicks : lonTicks;
  const xMin = isLat ? latMinor : lonMinor;
  const bottomRow = p.row === 3;
  const xi = xAxes.length;
  xAxes.push(xAxisDef(g, 'bottom', xr, xMaj, 7, bottomRow, bottomRow ? (isLat ? 'Lat/(°)' : 'Lon/(°)') : ''));
  xAxes.push(xAxisDef(g, 'top', xr, xMaj, 7, false));
  xAxes.push(xAxisDef(g, 'bottom', xr, xMin, 4, false));
  xAxes.push(xAxisDef(g, 'top', xr, xMin, 4, false));

  const yr = yRange[p.band];
  const yMaj = p.band === 0 ? b0Ticks : b1Ticks;
  const yMin = p.band === 0 ? b0Minor : b1Minor;
  const leftCol = isLat;
  const labelFn = leftCol ? (p.band === 0 ? yLabelB0 : yLabelB1) : null;
  const yi = yAxes.length;
  yAxes.push(yAxisDef(g, 'left', yr, yMaj, 7, labelFn, leftCol, p.band === 0 ? 58 : 74));
  yAxes.push(yAxisDef(g, 'right', yr, yMaj, 7, null, false));
  yAxes.push(yAxisDef(g, 'left', yr, yMin, 4, null, false));
  yAxes.push(yAxisDef(g, 'right', yr, yMin, 4, null, false));

  const bins = isLat ? latBins : lonBins;
  const names = p.band === 0 ? freqB0 : freqB1;
  p.lines.forEach((vals, k) => {
    const color = lineColors[k];
    const errs = p.errs[k];
    const n = Math.min(vals.length, bins.length);
    const pts = [], ebs = [];
    for (let i = 0; i < n; i++) {
      pts.push([bins[i], vals[i]]);
      ebs.push([bins[i], vals[i], errs[i] || 0]);
    }
    series.push({
      type: 'custom', xAxisIndex: xi, yAxisIndex: yi, silent: true, clip: true, z: 2 + k,
      data: ebs,
      renderItem: (params, api) => {
        const x = api.value(0), v = api.value(1), e = api.value(2);
        const top = api.coord([x, v + e]);
        const bot = api.coord([x, v - e]);
        const hw = 2;
        const st = {stroke: color, lineWidth: 1};
        return {type: 'group', children: [
          {type: 'line', shape: {x1: top[0], y1: top[1], x2: bot[0], y2: bot[1]}, style: st},
          {type: 'line', shape: {x1: top[0] - hw, y1: top[1], x2: top[0] + hw, y2: top[1]}, style: st},
          {type: 'line', shape: {x1: bot[0] - hw, y1: bot[1], x2: bot[0] + hw, y2: bot[1]}, style: st}
        ]};
      }
    });
    series.push({
      type: 'line', name: names[k], xAxisIndex: xi, yAxisIndex: yi, data: pts, clip: true, z: 2 + k,
      symbol: 'circle', symbolSize: 2.5, showSymbol: true, silent: true,
      lineStyle: {width: 1.1, color: color}, itemStyle: {color: color}
    });
  });
});

// panel headings and band labels
const graphics = [];
panelList.forEach(p => {
  const cx = colLeft[p.col] + colWidth[p.col] / 2 + (p.col % 2 === 1 ? 5 : 0);
  graphics.push({
    type: 'text', x: cx, y: rowTop[p.row] + 21, silent: true,
    style: {text: seasons[p.row] + ', Quiet, Nightside', fill: INK, font: '18px ' + FONT,
            textAlign: 'center', textVerticalAlign: 'middle'}
  });
});
graphics.push({type: 'text', x: 490, y: 16, silent: true,
  style: {text: '(B0)', fill: INK, font: '18px ' + FONT, textAlign: 'center', textVerticalAlign: 'middle'}});
graphics.push({type: 'text', x: 1390, y: 16, silent: true,
  style: {text: '(B1)', fill: INK, font: '18px ' + FONT, textAlign: 'center', textVerticalAlign: 'middle'}});

const legendBase = {
  orient: 'vertical', icon: 'rect', itemWidth: 9, itemHeight: 1.5, itemGap: 5,
  selectedMode: false, textStyle: {fontFamily: FONT, fontSize: 16, color: INK},
  padding: 0
};

const chart = echarts.init(document.getElementById('chart'), null, {renderer: 'canvas'});
chart.setOption({
  animation: false,
  backgroundColor: '#ffffff',
  grid: grids,
  xAxis: xAxes,
  yAxis: yAxes,
  series: series,
  graphic: graphics,
  legend: [
    Object.assign({}, legendBase, {data: freqB0, left: 803, top: 734}),
    Object.assign({}, legendBase, {data: freqB1, left: 1700, top: 666})
  ]
});
</script>
</body>
</html>
